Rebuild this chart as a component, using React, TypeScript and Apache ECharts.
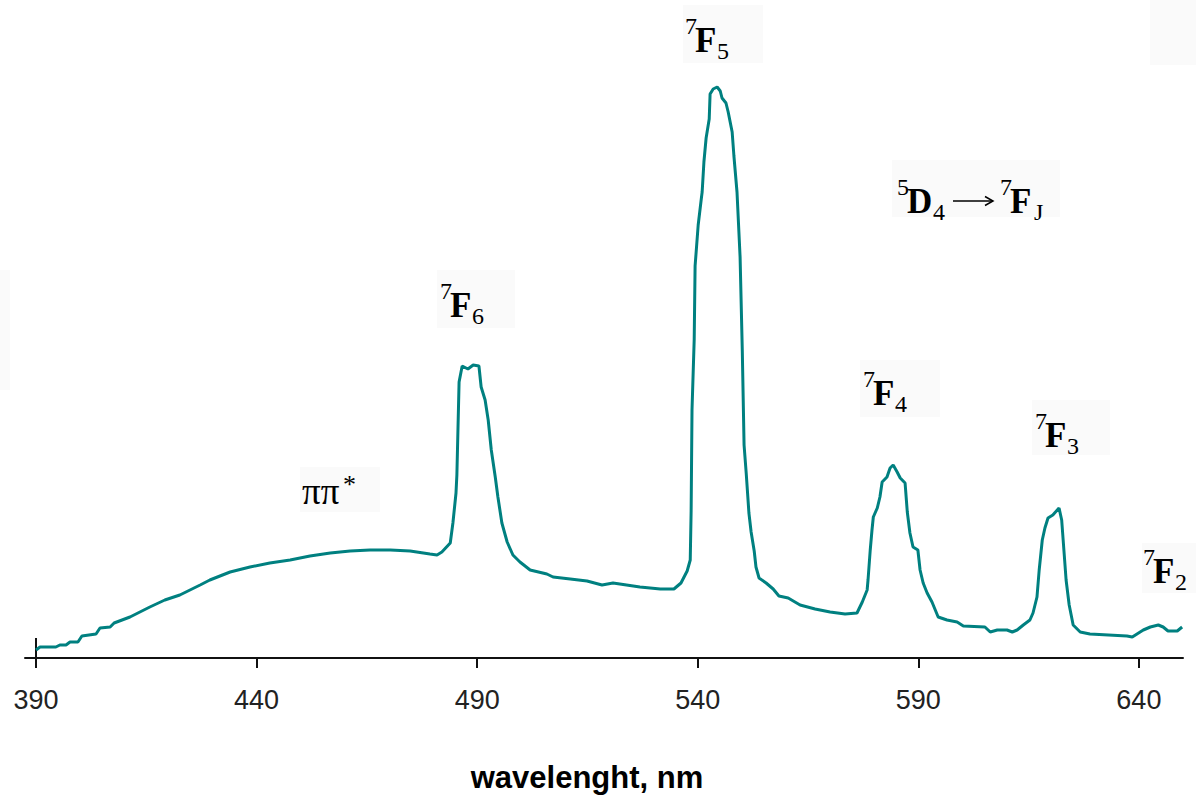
import React, { useEffect, useRef } from "react";
import * as echarts from "echarts";

// wavelength (nm)
const wavelength = [
  390.0, 390.9, 394.5, 395.4, 396.8, 397.7, 399.5, 400.4, 403.6, 404.5,
  406.8, 407.7, 411.3, 415.8, 419.2, 422.6, 427.2, 429.4, 434.0, 438.5,
  443.0, 447.6, 452.1, 456.7, 461.2, 465.7, 470.3, 474.8, 479.3, 480.9,
  482.0, 483.9, 484.5, 485.2, 485.4, 485.9, 486.6, 487.9, 489.1, 490.4,
  490.9, 491.8, 492.5, 493.2, 494.1, 494.7, 495.6, 496.8, 498.1, 499.7,
  502.0, 505.8, 507.2, 511.1, 514.9, 518.3, 520.8, 526.9, 531.5, 534.6,
  536.2, 537.6, 538.3, 538.5, 538.7, 539.2, 539.4, 540.1, 540.8, 541.0,
  541.4, 541.9, 542.6, 542.8, 543.5, 544.4, 545.1, 545.5, 546.4, 546.9,
  547.8, 548.2, 548.9, 549.6, 550.1, 550.5, 551.0, 551.6, 552.1, 552.8,
  553.2, 553.9, 555.5, 557.1, 558.4, 560.5, 563.2, 566.6, 570.0, 573.4,
  576.1, 577.3, 578.4, 578.6, 579.1, 579.5, 579.8, 580.7, 581.3, 581.8,
  582.9, 583.6, 584.3, 585.2, 585.9, 587.0, 587.5, 588.1, 588.8, 589.9,
  590.4, 591.1, 592.0, 593.1, 594.5, 596.5, 598.8, 600.2, 605.1, 606.3,
  607.9, 610.1, 611.3, 612.4, 613.8, 615.3, 616.0, 616.9, 617.4, 618.1,
  618.7, 619.4, 620.5, 621.9, 622.5, 623.0, 623.5, 624.2, 625.1, 626.7,
  628.9, 637.3, 638.5, 641.0, 642.6, 644.4, 645.5, 646.6, 648.7, 649.8,
];

// emission intensity (arbitrary units)
const intensity = [
  8, 11, 11, 13, 13, 16, 16, 22, 24, 30,
  31, 35, 41, 51, 58, 63, 73, 78, 86, 91,
  95, 98, 102, 105, 107, 108, 108, 107, 104, 103,
  106, 115, 135, 165, 183, 276, 292, 289, 293, 292,
  271, 258, 238, 208, 181, 161, 135, 116, 103, 96,
  88, 84, 81, 79, 77, 73, 75, 71, 69, 69,
  75, 87, 98, 147, 248, 319, 392, 433, 459, 466,
  496, 520, 539, 564, 569, 571, 567, 560, 555, 546,
  526, 502, 466, 401, 307, 213, 184, 145, 126, 107,
  91, 80, 75, 69, 62, 60, 53, 49, 46, 44,
  45, 56, 68, 78, 108, 128, 141, 150, 161, 176,
  181, 190, 193, 186, 180, 175, 146, 125, 111, 108,
  88, 75, 65, 56, 41, 38, 36, 32, 31, 26,
  28, 28, 26, 28, 33, 38, 45, 61, 88, 118,
  130, 140, 143, 150, 138, 108, 78, 53, 33, 26,
  24, 22, 21, 28, 31, 33, 31, 27, 27, 31,
];

const tickValues = [390, 440, 490, 540, 590, 640];

const xAxisTitle = "wavelenght, nm";

// transition labels: superscript, main letter, subscript
const peakLabels = [
  { sup: "7", main: "F", sub: "5" },
  { sup: "7", main: "F", sub: "6" },
  { sup: "7", main: "F", sub: "4" },
  { sup: "7", main: "F", sub: "3" },
  { sup: "7", main: "F", sub: "2" },
];

// layout of the annotations (pixel positions: left of main letter, baseline)
const peakLabelLayout = [
  { left: 695, base: 52, box: [683, 5, 80, 58] },
  { left: 450, base: 317, box: [437, 270, 78, 58] },
  { left: 873, base: 405, box: [860, 360, 80, 57] },
  { left: 1045, base: 447, box: [1032, 400, 78, 55] },
  { left: 1153, base: 583, box: [1142, 543, 60, 50] },
];

const SERIF = '"Liberation Serif", "Times New Roman", serif';
const SANS = '"Liberation Sans", Arial, sans-serif';
const BOX = "#fafafa";

function txt(text: string, x: number, y: number, size: number, bold = false, italic = false) {
  return {
    type: "text",
    x,
    y,
    silent: true,
    style: {
      text,
      fill: "#000",
      fontSize: size,
      fontFamily: SERIF,
      fontWeight: bold ? "bold" : "normal",
      fontStyle: italic ? "italic" : "normal",
      align: "left",
      verticalAlign: "middle",
    },
  };
}

function term(sup: string, main: string, sub: string, left: number, base: number, mainW = 22) {
  return [
    txt(sup, left - 10, base - 26, 24),
    txt(main, left, base - 11.5, 35, true),
    txt(sub, left + mainW, base - 1, 24),
  ];
}

function rect(b: number[]) {
  return {
    type: "rect",
    silent: true,
    shape: { x: b[0], y: b[1], width: b[2], height: b[3] },
    style: { fill: BOX },
  };
}

export default function App() {
  const ref = useRef<HTMLDivElement>(null);

  useEffect(() => {
    if (!ref.current) return;
    const chart = echarts.init(ref.current, null, { renderer: "svg" });

    const graphics: any[] = [];
    // faint background boxes
    peakLabelLayout.forEach((l) => graphics.push(rect(l.box)));
    graphics.push(rect([892, 160, 168, 57]));
    graphics.push(rect([300, 467, 80, 45]));
    graphics.push(rect([0, 270, 10, 120]));
    graphics.push(rect([1150, 0, 46, 65]));

    peakLabels.forEach((p, i) => {
      const l = peakLabelLayout[i];
      graphics.push(...term(p.sup, p.main, p.sub, l.left, l.base));
    });

    // 5D4 -> 7FJ
    graphics.push(...term("5", "D", "4", 907, 213, 26));
    graphics.push({
      type: "line",
      silent: true,
      shape: { x1: 953, y1: 201, x2: 993, y2: 201 },
      style: { stroke: "#000", lineWidth: 1.5 },
    });
    graphics.push({
      type: "polyline",
      silent: true,
      shape: { points: [[985, 196.5], [993, 201], [985, 205.5]] },
      style: { stroke: "#000", lineWidth: 1.5, fill: null },
    });
    graphics.push(...term("7", "F", "J", 1010, 213, 24));

    // pi pi *
    graphics.push(txt("ππ", 302, 491, 37, false, false));
    graphics.push(txt("*", 343, 484, 26));

    // y stub at origin
    graphics.push({
      type: "line",
      silent: true,
      shape: { x1: 36, y1: 638, x2: 36, y2: 658 },
      style: { stroke: "#111", lineWidth: 2 },
    });

    // x-axis title
    graphics.push({
      type: "text",
      x: 587,
      y: 777,
      silent: true,
      style: {
        text: xAxisTitle,
        fill: "#000",
        fontSize: 31,
        fontFamily: SANS,
        fontWeight: "bold",
        align: "center",
        verticalAlign: "middle",
      },
    });

    chart.setOption({
      animation: false,
      backgroundColor: "#ffffff",
      grid: { left: 25, right: 13, top: 58, bottom: 141, containLabel: false },
      xAxis: {
        type: "value",
        min: 387.5,
        max: 650,
        splitLine: { show: false },
        axisLine: { show: true, onZero: false, lineStyle: { color: "#111", width: 2 } },
        axisTick: {
          show: true,
          length: 10,
          customValues: tickValues,
          lineStyle: { color: "#111", width: 2 },
        },
        axisLabel: {
          show: true,
          customValues: tickValues,
          margin: 28,
          fontSize: 27,
          fontFamily: SANS,
          color: "#222",
        },
      },
      yAxis: {
        type: "value",
        min: 0,
        max: 600,
        show: false,
        splitLine: { show: false },
      },
      series: [
        {
          type: "line",
          data: wavelength.map((w, i) => [w, intensity[i]]),
          showSymbol: false,
          symbol: "none",
          lineStyle: { color: "#008080", width: 3 },
          z: 3,
        },
      ],
      graphic: graphics,
    });

    return () => chart.dispose();
  }, []);

  return (
    <div
      ref={ref}
      style={{ position: "absolute", left: 0, top: 0, width: 1196, height: 799, background: "#fff" }}
    />
  );
}
